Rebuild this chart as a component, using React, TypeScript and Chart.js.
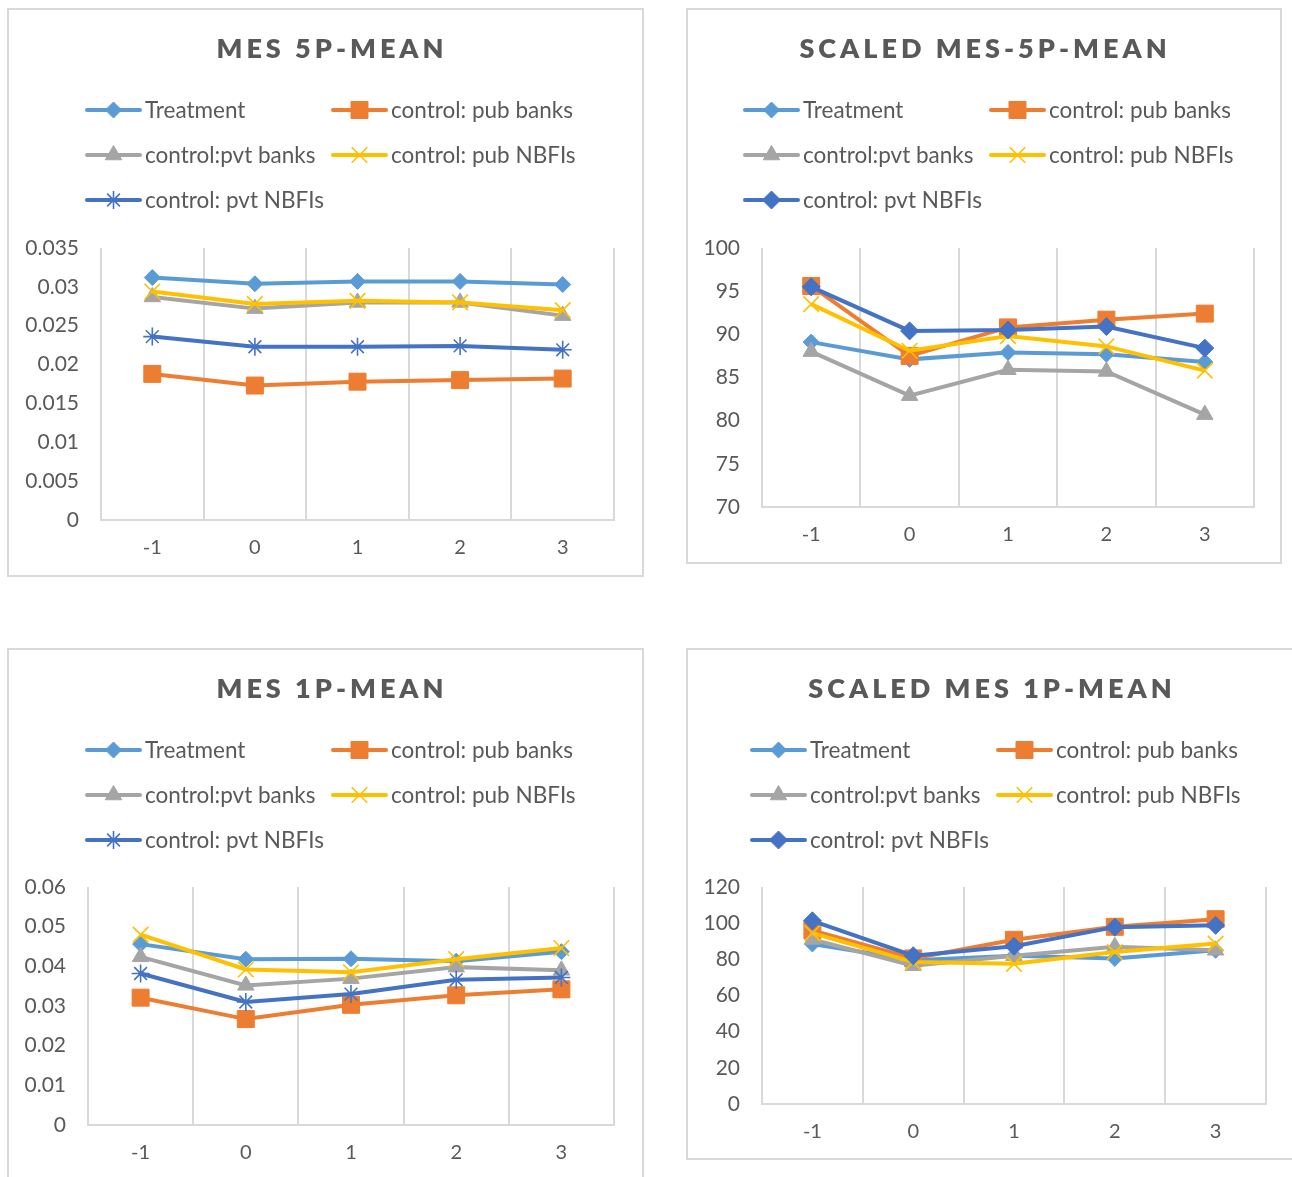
import React, { useEffect, useRef } from 'react';
import { Chart, registerables } from 'chart.js';
import { drawPoint } from 'chart.js/helpers';

Chart.register(...registerables);

// Event window (years relative to the event)
const periods = ['-1', '0', '1', '2', '3'];

const seriesNames = [
  'Treatment',
  'control: pub banks',
  'control:pvt banks',
  'control: pub NBFIs',
  'control: pvt NBFIs',
];

// MES 5P-MEAN
const treatment5p = [0.0312, 0.0304, 0.0307, 0.0307, 0.0303];
const pubBanks5p = [0.0188, 0.0173, 0.0178, 0.018, 0.0182];
const pvtBanks5p = [0.0287, 0.0272, 0.028, 0.028, 0.0263];
const pubNbfis5p = [0.0294, 0.0278, 0.0282, 0.028, 0.027];
const pvtNbfis5p = [0.0236, 0.0223, 0.0223, 0.0224, 0.0219];

// SCALED MES-5P-MEAN
const treatmentScaled5p = [89.1, 87.1, 87.9, 87.7, 86.8];
const pubBanksScaled5p = [95.6, 87.5, 90.8, 91.7, 92.4];
const pvtBanksScaled5p = [88.0, 82.9, 85.9, 85.7, 80.7];
const pubNbfisScaled5p = [93.5, 88.1, 89.8, 88.6, 85.8];
const pvtNbfisScaled5p = [95.5, 90.4, 90.5, 90.9, 88.4];

// MES 1P-MEAN
const treatment1p = [0.0456, 0.0418, 0.0419, 0.0413, 0.0437];
const pubBanks1p = [0.0321, 0.0267, 0.0303, 0.0327, 0.0342];
const pvtBanks1p = [0.0424, 0.0352, 0.0369, 0.0398, 0.039];
const pubNbfis1p = [0.048, 0.0392, 0.0385, 0.0418, 0.0446];
const pvtNbfis1p = [0.0382, 0.031, 0.033, 0.0366, 0.0372];

// SCALED MES 1P-MEAN
const treatmentScaled1p = [88.5, 79.5, 82.0, 80.5, 85.0];
const pubBanksScaled1p = [96.0, 80.5, 90.8, 98.0, 102.2];
const pvtBanksScaled1p = [91.0, 76.5, 82.0, 87.0, 85.0];
const pubNbfisScaled1p = [94.5, 78.5, 77.5, 84.0, 88.7];
const pvtNbfisScaled1p = [101.3, 82.0, 87.2, 97.8, 98.8];

const COLORS = ['#5B9BD5', '#ED7D31', '#A5A5A5', '#FFC000', '#4472C4'];
const TEXT = '#595959';
const GRID = '#D9D9D9';
const FONT = 'Lato, "Open Sans", sans-serif';
const TITLE_SPACING = 4;

type Marker = { style: string; radius: number; border: number };

const baseMarkers: Marker[] = [
  { style: 'rectRot', radius: 8, border: 1 },
  { style: 'rect', radius: 12, border: 1 },
  { style: 'triangle', radius: 9.5, border: 1 },
  { style: 'crossRot', radius: 11, border: 1.6 },
  { style: 'star', radius: 9, border: 1.6 },
];
const diamondLast: Marker = { style: 'rectRot', radius: 9, border: 1 };

type PanelSpec = {
  title: string;
  titleX: number;
  left: number;
  top: number;
  width: number;
  height: number;
  area: { l: number; t: number; r: number; b: number };
  legendX: number;
  yMin: number;
  yMax: number;
  yStep: number;
  series: number[][];
  lastMarker: Marker;
};

const panels: PanelSpec[] = [
  {
    title: 'MES 5P-MEAN',
    titleX: 323,
    left: 7, top: 8, width: 637, height: 569,
    area: { l: 94, t: 240, r: 607, b: 512 },
    legendX: 80,
    yMin: 0, yMax: 0.035, yStep: 0.005,
    series: [treatment5p, pubBanks5p, pvtBanks5p, pubNbfis5p, pvtNbfis5p],
    lastMarker: baseMarkers[4],
  },
  {
    title: 'SCALED MES-5P-MEAN',
    titleX: 297,
    left: 686, top: 8, width: 596, height: 556,
    area: { l: 76, t: 240, r: 568, b: 499 },
    legendX: 59,
    yMin: 70, yMax: 100, yStep: 5,
    series: [treatmentScaled5p, pubBanksScaled5p, pvtBanksScaled5p, pubNbfisScaled5p, pvtNbfisScaled5p],
    lastMarker: diamondLast,
  },
  {
    title: 'MES 1P-MEAN',
    titleX: 323,
    left: 7, top: 648, width: 637, height: 560,
    area: { l: 81, t: 239, r: 607, b: 477 },
    legendX: 80,
    yMin: 0, yMax: 0.06, yStep: 0.01,
    series: [treatment1p, pubBanks1p, pvtBanks1p, pubNbfis1p, pvtNbfis1p],
    lastMarker: baseMarkers[4],
  },
  {
    title: 'SCALED MES 1P-MEAN',
    titleX: 304,
    left: 686, top: 648, width: 608, height: 512,
    area: { l: 76, t: 239, r: 580, b: 456 },
    legendX: 66,
    yMin: 0, yMax: 120, yStep: 20,
    series: [treatmentScaled1p, pubBanksScaled1p, pvtBanksScaled1p, pubNbfisScaled1p, pvtNbfisScaled1p],
    lastMarker: diamondLast,
  },
];

const LEGEND_ROWS = [102, 147, 192];
const LEGEND_COL_GAP = 246;
const LEGEND_LINE = 53;

function makeDecor(spec: PanelSpec) {
  return {
    id: 'panelDecor',
    afterDraw(chart: any) {
      const ctx = chart.ctx as CanvasRenderingContext2D;
      ctx.save();
      // Title
      ctx.font = `800 27px ${FONT}`;
      (ctx as any).letterSpacing = `${TITLE_SPACING}px`;
      ctx.fillStyle = TEXT;
      ctx.textAlign = 'center';
      ctx.textBaseline = 'middle';
      ctx.fillText(spec.title, spec.titleX + TITLE_SPACING / 2, 41);
      (ctx as any).letterSpacing = '0px';

      // Two-column legend
      ctx.font = `22.5px ${FONT}`;
      ctx.textAlign = 'left';
      chart.data.datasets.forEach((ds: any, i: number) => {
        const x0 = spec.legendX + (i % 2) * LEGEND_COL_GAP;
        const y = LEGEND_ROWS[Math.floor(i / 2)];
        ctx.strokeStyle = ds.borderColor;
        ctx.lineWidth = ds.borderWidth;
        ctx.lineCap = 'round';
        ctx.beginPath();
        ctx.moveTo(x0, y);
        ctx.lineTo(x0 + LEGEND_LINE, y);
        ctx.stroke();
        ctx.lineCap = 'butt';
        ctx.fillStyle = ds.pointBackgroundColor;
        ctx.strokeStyle = ds.pointBorderColor;
        ctx.lineWidth = ds.pointBorderWidth;
        drawPoint(
          ctx,
          { pointStyle: ds.pointStyle, radius: ds.pointRadius, borderWidth: ds.pointBorderWidth, rotation: 0 } as any,
          x0 + LEGEND_LINE / 2,
          y
        );
        ctx.fillStyle = TEXT;
        ctx.fillText(ds.label, x0 + LEGEND_LINE + 5, y + 1);
      });
      ctx.restore();
    },
  };
}

function formatTick(v: number) {
  return String(Number(v.toFixed(4)));
}

function Panel({ spec }: { spec: PanelSpec }) {
  const ref = useRef<HTMLCanvasElement | null>(null);

  useEffect(() => {
    if (!ref.current) return;
    const datasets = spec.series.map((values, i) => {
      const m = i === 4 ? spec.lastMarker : baseMarkers[i];
      return {
        label: seriesNames[i],
        data: values,
        borderColor: COLORS[i],
        backgroundColor: COLORS[i],
        borderWidth: 4,
        pointStyle: m.style,
        pointRadius: m.radius,
        pointBorderWidth: m.border,
        pointBackgroundColor: COLORS[i],
        pointBorderColor: COLORS[i],
        tension: 0,
        order: 5 - i,
      };
    });

    const chart = new Chart(ref.current, {
      type: 'line',
      data: { labels: periods, datasets },
      options: {
        responsive: false,
        animation: false,
        layout: {
          padding: { left: 0, top: spec.area.t, right: spec.width - spec.area.r, bottom: 0 },
        },
        plugins: {
          legend: { display: false },
          title: { display: false },
          tooltip: { enabled: false },
        },
        scales: {
          x: {
            offset: true,
            grid: { offset: true, color: GRID, lineWidth: 2, drawTicks: false },
            border: { display: true, color: GRID, width: 2 },
            ticks: { color: TEXT, padding: 16, font: { family: FONT, size: 20 } },
            afterFit: (s: any) => {
              s.height = spec.height - spec.area.b;
            },
          },
          y: {
            min: spec.yMin,
            max: spec.yMax,
            ticks: {
              stepSize: spec.yStep,
              color: TEXT,
              padding: 22,
              font: { family: FONT, size: 21 },
              callback: (v: any) => formatTick(Number(v)),
            },
            grid: { display: false, drawTicks: false },
            border: { display: false },
            afterFit: (s: any) => {
              s.width = spec.area.l;
            },
          },
        },
      } as any,
      plugins: [makeDecor(spec)],
    });
    return () => chart.destroy();
  }, [spec]);

  return (
    <div style={{ position: 'absolute', left: spec.left, top: spec.top, width: spec.width, height: spec.height }}>
      <canvas ref={ref} width={spec.width} height={spec.height} style={{ display: 'block' }} />
      <div
        style={{
          position: 'absolute',
          inset: 0,
          border: `2px solid ${GRID}`,
          boxSizing: 'border-box',
          pointerEvents: 'none',
        }}
      />
    </div>
  );
}

export default function App() {
  return (
    <div
      style={{
        position: 'absolute',
        left: 0,
        top: 0,
        width: 1292,
        height: 1177,
        overflow: 'hidden',
        background: '#fff',
      }}
    >
      {panels.map((p) => (
        <Panel key={p.title} spec={p} />
      ))}
    </div>
  );
}
